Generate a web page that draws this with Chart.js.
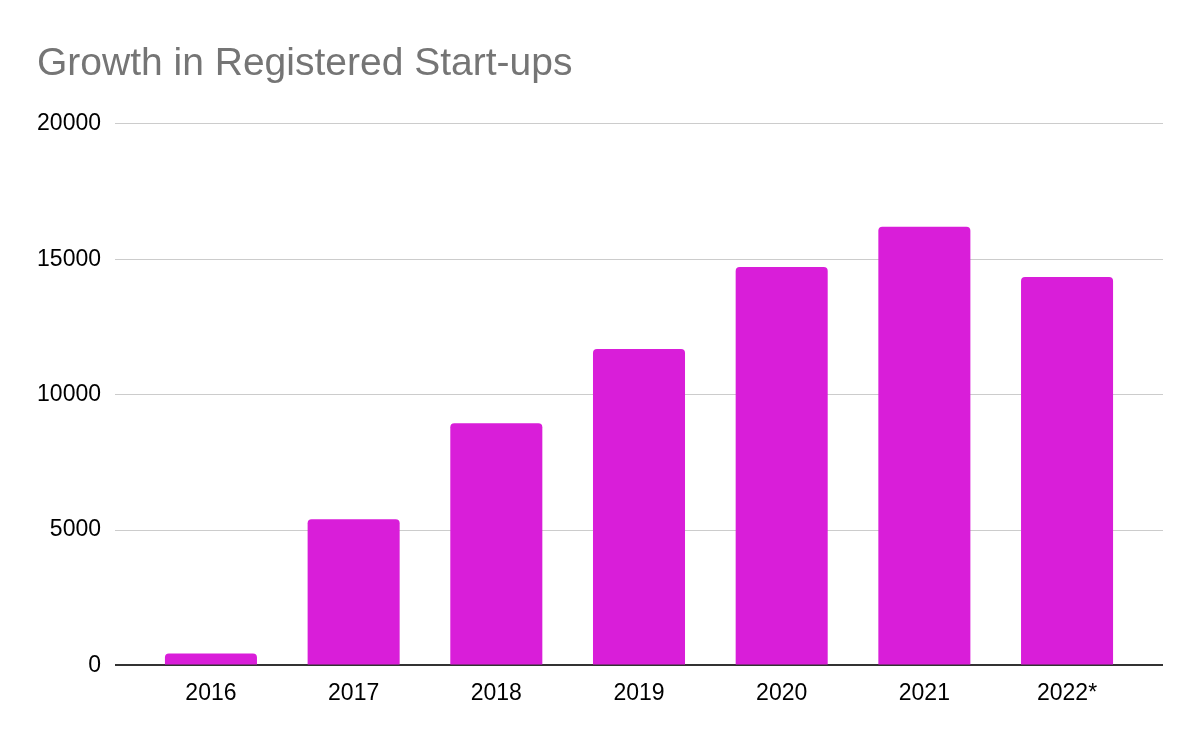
<!DOCTYPE html>
<html>
<head>
<meta charset="utf-8">
<script src="https://cdn.jsdelivr.net/npm/chart.js@4"></script>
<style>
  html, body { margin: 0; padding: 0; background: #fff; }
  #wrap { width: 1200px; height: 742px; position: relative; }
</style>
</head>
<body>
<div id="wrap"><canvas id="c"></canvas></div>
<script>
const categories = ['2016', '2017', '2018', '2019', '2020', '2021', '2022*'];
const startups = [443, 5395, 8945, 11680, 14710, 16195, 14340];
const yTicks = [0, 5000, 10000, 15000, 20000];

const points = startups.map((v, i) => ({ x: i, y: v }));
const FONT = "'Liberation Sans', Arial, sans-serif";

new Chart(document.getElementById('c'), {
  type: 'bar',
  data: {
    datasets: [{
      data: points,
      backgroundColor: '#d91ed9',
      borderRadius: 4,
      borderSkipped: 'start',
      categoryPercentage: 1,
      barPercentage: 0.645
    }]
  },
  options: {
    responsive: true,
    maintainAspectRatio: false,
    devicePixelRatio: 1,
    animation: false,
    layout: { padding: { left: 37, right: 37, top: 0, bottom: 29 } },
    plugins: {
      legend: { display: false },
      tooltip: { enabled: false },
      title: {
        display: true,
        text: 'Growth in Registered Start-ups',
        align: 'start',
        color: '#757575',
        font: { family: FONT, size: 39, weight: 'normal' },
        padding: { top: 41, bottom: 36 }
      }
    },
    scales: {
      x: {
        type: 'linear',
        offset: false,
        min: -0.6725,
        max: categories.length - 1 + 0.6725,
        grid: { display: false },
        border: { display: false },
        ticks: {
          stepSize: 1,
          includeBounds: false,
          autoSkip: false,
          maxRotation: 0,
          padding: 6,
          color: '#000',
          font: { family: FONT, size: 23 },
          callback: (v) => (Number.isInteger(v) && categories[v] !== undefined) ? categories[v] : ''
        }
      },
      y: {
        min: yTicks[0],
        max: yTicks[yTicks.length - 1],
        afterBuildTicks: (axis) => { axis.ticks = yTicks.map(v => ({ value: v })); },
        afterFit: (axis) => { axis.width = 78; },
        border: { display: false },
        grid: {
          drawTicks: false,
          color: (ctx) => ctx.tick && ctx.tick.value === 0 ? '#333333' : '#cccccc',
          lineWidth: (ctx) => ctx.tick && ctx.tick.value === 0 ? 2 : 1
        },
        ticks: {
          padding: 14,
          color: '#000',
          font: { family: FONT, size: 23 },
          callback: (v) => String(v)
        }
      }
    }
  }
});
</script>
</body>
</html>
